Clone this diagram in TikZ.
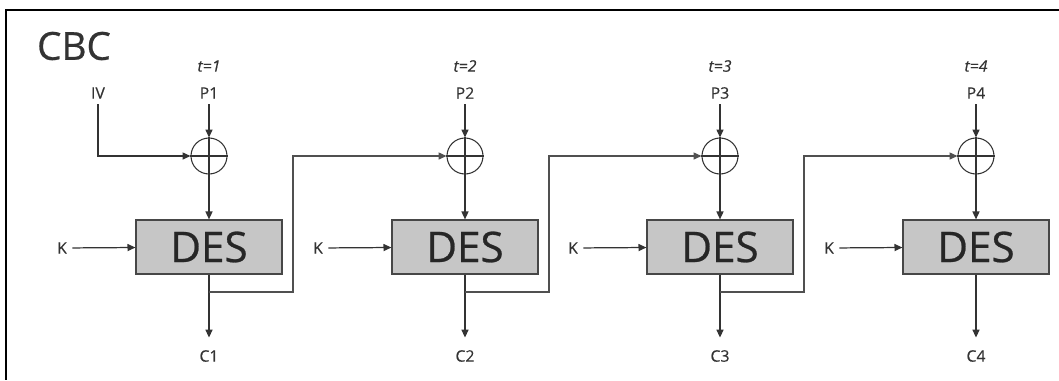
\documentclass[tikz,border=0pt]{standalone}
\usepackage{fontspec}
\setmainfont{Open Sans}
\newfontfamily\heavyfont[FakeBold=0.6]{Open Sans}
\newfontfamily\labelfont[FakeBold=0.3]{Open Sans}
\usetikzlibrary{arrows.meta, positioning}
\definecolor{inkgray}{HTML}{333333}
\definecolor{desfill}{HTML}{C6C6C6}
\definecolor{fbgray}{HTML}{505050}

\begin{document}
\begin{tikzpicture}[x=0.02cm, y=-0.02cm, >={Triangle[length=4.5pt, width=4pt]},
  lbl/.style={text=inkgray, font=\labelfont\fontsize{9}{10}\selectfont, inner sep=3pt},
  tlbl/.style={text=inkgray, font=\labelfont\fontsize{9}{10}\selectfont\itshape, inner sep=1pt},
  desbox/.style={draw=inkgray!90, fill=desfill, line width=0.7pt, minimum width=2.92cm, minimum height=1.08cm, inner sep=0pt, font=\heavyfont\fontsize{24}{28}\selectfont, text=black!85},
  xorop/.style={draw=inkgray, circle, minimum size=0.72cm, inner sep=0pt, line width=0.6pt},
  wire/.style={inkgray, line width=0.7pt},
  fbwire/.style={fbgray, line width=0.7pt}]

% Background and frame
\useasboundingbox (0,0) rectangle (1059,380);
\fill[white] (0,0) rectangle (1059,380);
\draw[black, line width=1.6pt] (1059,10) -- (6,10) -- (6,380);

% Title
\node[text=inkgray, font=\heavyfont\fontsize{22}{26}\selectfont, inner sep=0pt] (title) at (74,46) {CBC};

%%% Stage 1 %%%
\node[tlbl] (t1) at (209,66) {t=1};
\node[lbl] (p1) at (209,93) {P1};
\node[lbl] (iv) at (98,93) {IV};
\node[xorop] (x1) at (209,156) {};
\draw[wire, line width=0.6pt] (x1.north) -- (x1.south) (x1.west) -- (x1.east);
\node[desbox] (d1) at (209,247) {DES};
\node[lbl] (k1) at (62,248) {K};
\node[lbl] (c1) at (209,356) {C1};
\coordinate (b1) at (209,292);
\coordinate (f1) at (293,292);
\draw[wire, ->] (p1) -- (x1);
\draw[wire, ->] (iv) |- (x1);
\draw[wire, ->] (x1) -- (d1);
\draw[wire, ->] (k1) -- (d1);
\draw[wire, ->, shorten >=4pt] (d1) -- (c1);

%%% Stage 2 %%%
\node[tlbl] (t2) at (465,66) {t=2};
\node[lbl] (p2) at (465,93) {P2};
\node[xorop] (x2) at (465,156) {};
\draw[wire, line width=0.6pt] (x2.north) -- (x2.south) (x2.west) -- (x2.east);
\node[desbox] (d2) at (465,247) {DES};
\node[lbl] (k2) at (318,248) {K};
\node[lbl] (c2) at (465,356) {C2};
\coordinate (b2) at (465,292);
\coordinate (f2) at (549,292);
\draw[wire, ->] (p2) -- (x2);
\draw[fbwire, ->] (b1) -- (f1) |- (x2);
\draw[wire, ->] (x2) -- (d2);
\draw[wire, ->] (k2) -- (d2);
\draw[wire, ->, shorten >=4pt] (d2) -- (c2);

%%% Stage 3 %%%
\node[tlbl] (t3) at (720,66) {t=3};
\node[lbl] (p3) at (720,93) {P3};
\node[xorop] (x3) at (720,156) {};
\draw[wire, line width=0.6pt] (x3.north) -- (x3.south) (x3.west) -- (x3.east);
\node[desbox] (d3) at (720,247) {DES};
\node[lbl] (k3) at (573,248) {K};
\node[lbl] (c3) at (720,356) {C3};
\coordinate (b3) at (720,292);
\coordinate (f3) at (804,292);
\draw[wire, ->] (p3) -- (x3);
\draw[fbwire, ->] (b2) -- (f2) |- (x3);
\draw[wire, ->] (x3) -- (d3);
\draw[wire, ->] (k3) -- (d3);
\draw[wire, ->, shorten >=4pt] (d3) -- (c3);

%%% Stage 4 %%%
\node[tlbl] (t4) at (976,66) {t=4};
\node[lbl] (p4) at (976,93) {P4};
\node[xorop] (x4) at (976,156) {};
\draw[wire, line width=0.6pt] (x4.north) -- (x4.south) (x4.west) -- (x4.east);
\node[desbox] (d4) at (976,247) {DES};
\node[lbl] (k4) at (829,248) {K};
\node[lbl] (c4) at (976,356) {C4};
\draw[wire, ->] (p4) -- (x4);
\draw[fbwire, ->] (b3) -- (f3) |- (x4);
\draw[wire, ->] (x4) -- (d4);
\draw[wire, ->] (k4) -- (d4);
\draw[wire, ->, shorten >=4pt] (d4) -- (c4);

\end{tikzpicture}
\end{document}
